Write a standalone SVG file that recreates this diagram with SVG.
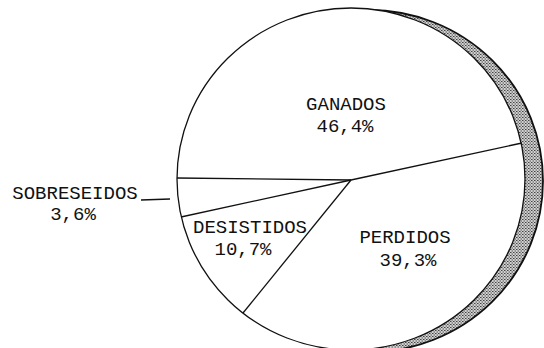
<svg xmlns="http://www.w3.org/2000/svg" width="544" height="348" viewBox="0 0 544 348">
<style>
.t{font-family:"Liberation Mono","Courier New",monospace;font-size:19px;fill:#111;text-anchor:middle}
.ln{stroke:#111;stroke-width:1.3;fill:none}
</style>
<defs>
<pattern id="dots" width="3" height="3" patternUnits="userSpaceOnUse">
<rect width="3" height="3" fill="#d0d0d0"/>
<rect width="1.5" height="1" fill="#444"/>
<rect x="1.5" y="1.5" width="1.5" height="1" fill="#555"/>
</pattern>
</defs>
<rect width="544" height="348" fill="#fff"/>
<g id="shadow">
<ellipse cx="369" cy="181" rx="174" ry="171" fill="url(#dots)" stroke="#111" stroke-width="1.8"/>
</g>
<g id="pie">
<ellipse cx="351" cy="179" rx="174" ry="171" fill="#fff" stroke="#111" stroke-width="1.3"/>
</g>
<g id="connectors">
<line class="ln" x1="351" y1="180" x2="522" y2="143"/>
<line class="ln" x1="351" y1="180" x2="177" y2="178"/>
<line class="ln" x1="351" y1="180" x2="181" y2="217"/>
<line class="ln" x1="351" y1="180" x2="243" y2="313"/>
<line class="ln" x1="141" y1="200" x2="170" y2="199"/>
</g>
<g id="ganados">
<text class="t" x="346" y="110">GANADOS</text>
<text class="t" x="345" y="132">46,4%</text>
</g>
<g id="perdidos">
<text class="t" x="405" y="243">PERDIDOS</text>
<text class="t" x="408" y="266">39,3%</text>
</g>
<g id="desistidos">
<text class="t" x="250" y="233">DESISTIDOS</text>
<text class="t" x="243" y="255">10,7%</text>
</g>
<g id="sobreseidos">
<text class="t" x="75" y="199">SOBRESEIDOS</text>
<text class="t" x="73" y="220">3,6%</text>
</g>
</svg>
